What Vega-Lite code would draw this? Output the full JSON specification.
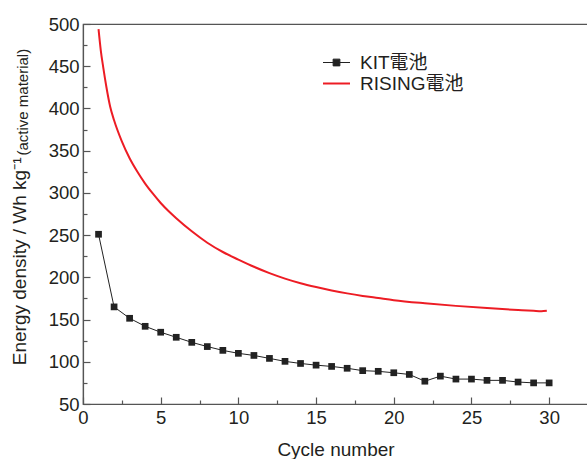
{
  "$schema": "https://vega.github.io/schema/vega-lite/v6.json",
  "width": 505,
  "height": 380,
  "autosize": "none",
  "padding": {"left": 83, "top": 24, "right": 0, "bottom": 55},
  "background": "white",
  "view": {"stroke": "#555", "strokeWidth": 1.2},
  "config": {
    "font": "Liberation Sans",
    "axis": {
      "domainColor": "#555", "tickColor": "#555", "domainWidth": 1.2, "tickWidth": 1.2,
      "labelColor": "#231f20", "titleColor": "#231f20",
      "labelFont": "Liberation Sans", "titleFont": "Liberation Sans",
      "labelFontSize": 18.5, "titleFontSize": 19, "titleFontWeight": "normal", "grid": false
    }
  },
  "datasets": {
    "energy": [
      {"series": "KIT電池", "cycle": 1, "energy": 251},
      {"series": "KIT電池", "cycle": 2, "energy": 165},
      {"series": "KIT電池", "cycle": 3, "energy": 151.5},
      {"series": "KIT電池", "cycle": 4, "energy": 142},
      {"series": "KIT電池", "cycle": 5, "energy": 135},
      {"series": "KIT電池", "cycle": 6, "energy": 129},
      {"series": "KIT電池", "cycle": 7, "energy": 123},
      {"series": "KIT電池", "cycle": 8, "energy": 118},
      {"series": "KIT電池", "cycle": 9, "energy": 113.5},
      {"series": "KIT電池", "cycle": 10, "energy": 110},
      {"series": "KIT電池", "cycle": 11, "energy": 107.5},
      {"series": "KIT電池", "cycle": 12, "energy": 104},
      {"series": "KIT電池", "cycle": 13, "energy": 100.5},
      {"series": "KIT電池", "cycle": 14, "energy": 98},
      {"series": "KIT電池", "cycle": 15, "energy": 96},
      {"series": "KIT電池", "cycle": 16, "energy": 94.5},
      {"series": "KIT電池", "cycle": 17, "energy": 92.3},
      {"series": "KIT電池", "cycle": 18, "energy": 89.5},
      {"series": "KIT電池", "cycle": 19, "energy": 88.7},
      {"series": "KIT電池", "cycle": 20, "energy": 87},
      {"series": "KIT電池", "cycle": 21, "energy": 85},
      {"series": "KIT電池", "cycle": 22, "energy": 77},
      {"series": "KIT電池", "cycle": 23, "energy": 83},
      {"series": "KIT電池", "cycle": 24, "energy": 79.5},
      {"series": "KIT電池", "cycle": 25, "energy": 79.5},
      {"series": "KIT電池", "cycle": 26, "energy": 78},
      {"series": "KIT電池", "cycle": 27, "energy": 78},
      {"series": "KIT電池", "cycle": 28, "energy": 76},
      {"series": "KIT電池", "cycle": 29, "energy": 75},
      {"series": "KIT電池", "cycle": 30, "energy": 75},
      {"series": "RISING電池", "cycle": 1.0, "energy": 494},
      {"series": "RISING電池", "cycle": 1.15, "energy": 468},
      {"series": "RISING電池", "cycle": 1.3, "energy": 449},
      {"series": "RISING電池", "cycle": 1.5, "energy": 426},
      {"series": "RISING電池", "cycle": 1.75, "energy": 402},
      {"series": "RISING電池", "cycle": 2.0, "energy": 386},
      {"series": "RISING電池", "cycle": 2.5, "energy": 361},
      {"series": "RISING電池", "cycle": 3.0, "energy": 341},
      {"series": "RISING電池", "cycle": 3.5, "energy": 325},
      {"series": "RISING電池", "cycle": 4.0, "energy": 311},
      {"series": "RISING電池", "cycle": 4.5, "energy": 299},
      {"series": "RISING電池", "cycle": 5.0, "energy": 288},
      {"series": "RISING電池", "cycle": 5.5, "energy": 278.5},
      {"series": "RISING電池", "cycle": 6.0, "energy": 270},
      {"series": "RISING電池", "cycle": 7.0, "energy": 254.5},
      {"series": "RISING電池", "cycle": 8.0, "energy": 241},
      {"series": "RISING電池", "cycle": 9.0, "energy": 230},
      {"series": "RISING電池", "cycle": 10.0, "energy": 221},
      {"series": "RISING電池", "cycle": 11.0, "energy": 212.5},
      {"series": "RISING電池", "cycle": 12.0, "energy": 205},
      {"series": "RISING電池", "cycle": 13.0, "energy": 198.5},
      {"series": "RISING電池", "cycle": 14.0, "energy": 193},
      {"series": "RISING電池", "cycle": 15.0, "energy": 188.5},
      {"series": "RISING電池", "cycle": 16.0, "energy": 184.5},
      {"series": "RISING電池", "cycle": 17.0, "energy": 181},
      {"series": "RISING電池", "cycle": 18.0, "energy": 178},
      {"series": "RISING電池", "cycle": 19.0, "energy": 175.5},
      {"series": "RISING電池", "cycle": 20.0, "energy": 173},
      {"series": "RISING電池", "cycle": 22.0, "energy": 169.3},
      {"series": "RISING電池", "cycle": 24.0, "energy": 166.2},
      {"series": "RISING電池", "cycle": 26.0, "energy": 163.6},
      {"series": "RISING電池", "cycle": 28.0, "energy": 161.3},
      {"series": "RISING電池", "cycle": 29.0, "energy": 160.3},
      {"series": "RISING電池", "cycle": 29.5, "energy": 159.9},
      {"series": "RISING電池", "cycle": 29.85, "energy": 160.4}
    ]
  },
  "data": {"name": "energy"},
  "layer": [
    {
      "transform": [{"filter": "datum.series === 'KIT電池'"}],
      "mark": {"type": "line", "strokeWidth": 1, "interpolate": "linear"},
      "encoding": {
        "x": {
          "field": "cycle", "type": "quantitative",
          "scale": {"domain": [0, 32.5], "nice": false, "zero": false},
          "axis": {"orient": "bottom", "values": [0, 5, 10, 15, 20, 25, 30], "title": "Cycle number",
                   "ticks": false, "labelPadding": 4, "titlePadding": 14, "labelFlush": false, "labelOverlap": false}
        },
        "y": {
          "field": "energy", "type": "quantitative",
          "scale": {"domain": [50, 500], "nice": false, "zero": false},
          "axis": {"orient": "left", "values": [50, 100, 150, 200, 250, 300, 350, 400, 450, 500],
                   "title": "Energy density /  Wh kg⁻¹", "ticks": false, "labelPadding": 4,
                   "titleAngle": -90, "titleAlign": "right", "titleBaseline": "alphabetic",
                   "titleX": -58, "titleY": 133, "labelOverlap": false}
        },
        "color": {
          "field": "series", "type": "nominal",
          "scale": {"domain": ["KIT電池", "RISING電池"], "range": ["#222222", "#ed1c24"]},
          "legend": {
            "orient": "none", "legendX": 244, "legendY": 29, "title": null,
            "symbolSize": 729, "symbolType": "M-1,0H1M-0.25,-0.25H0.25V0.25H-0.25Z",
            "labelFontSize": 19, "labelFont": "Liberation Sans, Noto Sans CJK JP", "labelColor": "#231f20",
            "labelOffset": 14, "rowPadding": 1,
            "encode": {
              "symbols": {
                "update": {
                  "shape": {"signal": "datum.value === 'KIT電池' ? 'M-1,0H1M-0.25,-0.25H0.25V0.25H-0.25Z' : 'M-1,0H1'"},
                  "fill": {"signal": "datum.value === 'KIT電池' ? '#222222' : 'transparent'"},
                  "strokeWidth": {"signal": "datum.value === 'KIT電池' ? 1 : 2"}
                }
              }
            }
          }
        }
      }
    },
    {
      "transform": [{"filter": "datum.series === 'RISING電池'"}],
      "mark": {"type": "line", "strokeWidth": 2, "interpolate": "monotone"},
      "encoding": {
        "x": {
          "field": "cycle", "type": "quantitative",
          "axis": {"orient": "top", "offset": -380, "values": [0, 5, 10, 15, 20, 25, 30], "title": null,
                   "labels": false, "domain": false, "tickSize": 7}
        },
        "y": {
          "field": "energy", "type": "quantitative",
          "axis": {"orient": "right", "offset": -505, "values": [50, 100, 150, 200, 250, 300, 350, 400, 450, 500],
                   "title": null, "labels": false, "domain": false, "tickSize": 7}
        },
        "color": {"field": "series", "type": "nominal"}
      }
    },
    {
      "transform": [{"filter": "datum.series === 'KIT電池'"}],
      "mark": {"type": "point", "shape": "square", "filled": true, "size": 45, "color": "#222222", "opacity": 1},
      "encoding": {
        "x": {
          "field": "cycle", "type": "quantitative",
          "axis": {"orient": "top", "offset": -380, "values": [2.5, 7.5, 12.5, 17.5, 22.5, 27.5, 32.5], "title": null,
                   "labels": false, "domain": false, "tickSize": 4}
        },
        "y": {
          "field": "energy", "type": "quantitative",
          "axis": {"orient": "right", "offset": -505, "values": [75, 125, 175, 225, 275, 325, 375, 425, 475],
                   "title": "(active material)", "titleFontSize": 15, "labels": false, "domain": false,
                   "tickSize": 4, "titleAngle": -90, "titleAlign": "left", "titleBaseline": "alphabetic",
                   "titleX": -56, "titleY": 131}
        }
      }
    }
  ],
  "resolve": {"axis": {"x": "independent", "y": "independent"}}
}
